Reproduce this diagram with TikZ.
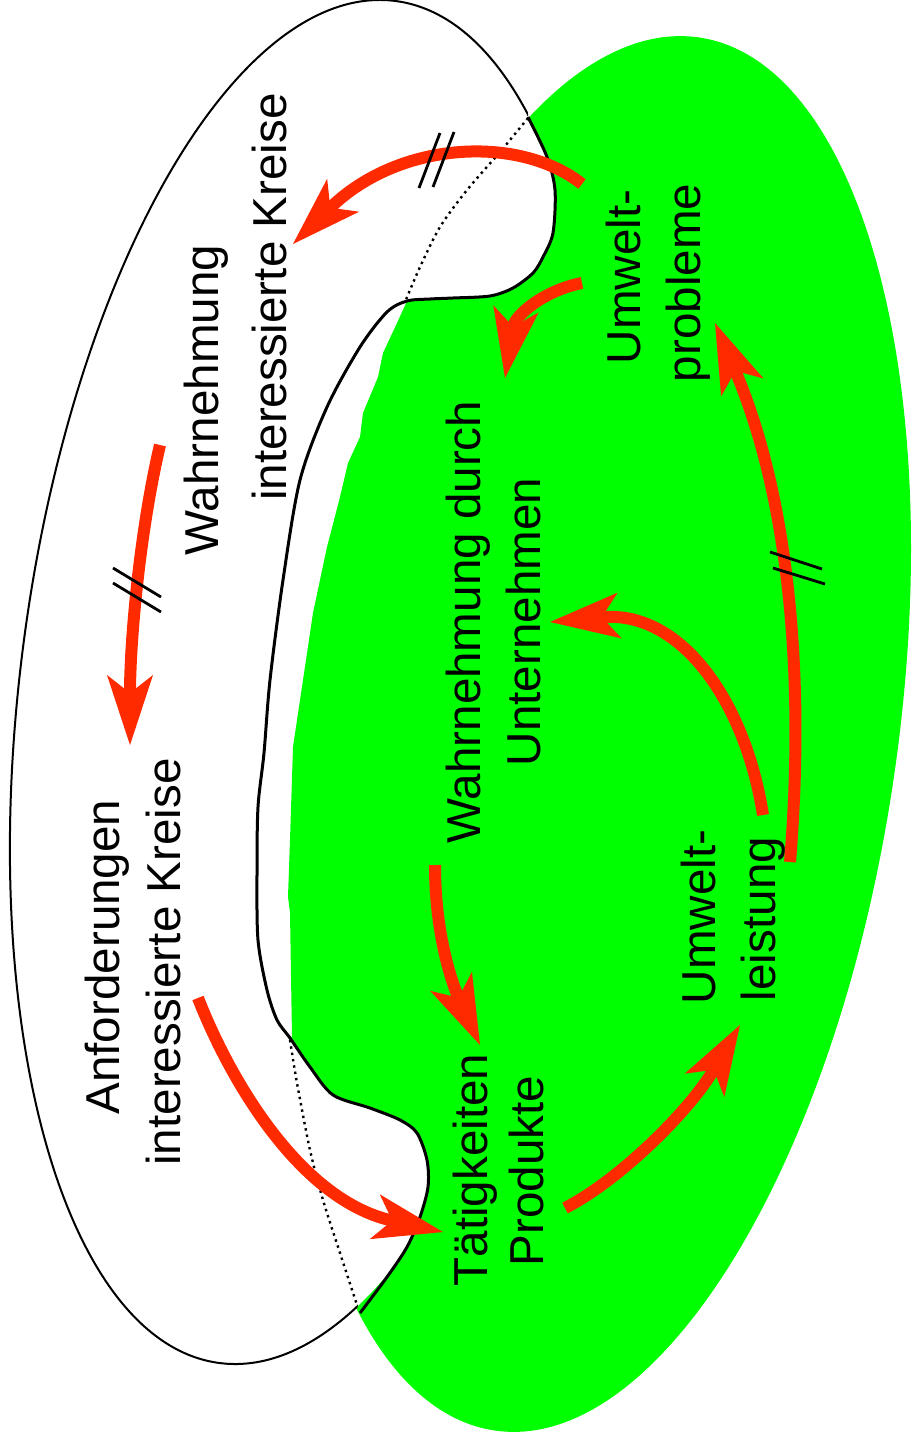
\documentclass[tikz,border=0pt]{standalone}
\usepackage{fontspec}
\setmainfont{Liberation Sans}
\usetikzlibrary{arrows.meta}
\definecolor{leaf}{RGB}{0,255,0}
\definecolor{flame}{RGB}{255,42,0}
\begin{document}
\begin{tikzpicture}[x=1pt,y=-1pt,
  flow/.style={draw=flame, line width=12pt,
    -{Stealth[length=70pt,width=46pt,inset=18pt,line width=0pt]}},
  hatch/.style={draw=black, line width=2.8pt},
  hidden/.style={line width=2.4pt, dash pattern=on 2.4pt off 4pt},
  lbl/.style={rotate=90, anchor=base, inner sep=0pt,
    font=\fontsize{47.6}{59}\selectfont},
  gshape/.style={rotate around={-8.35:(597,734)}},
  wshape/.style={rotate around={-7.36:(307.5,682)}},
]
\useasboundingbox (0,0) rectangle (914,1438);

% large green field
\fill[leaf, gshape] (597,734) ellipse [x radius=300, y radius=704];

% white field of the interested parties
\fill[white, wshape] (307.5,682) ellipse [x radius=286.6, y radius=686.7];
\begin{scope}
  \clip (562,-122) -- (323,1549) -- (-100,1549) -- (-100,-122) -- cycle;
  \draw[line width=2pt, wshape] (307.5,682) ellipse [x radius=286.6, y radius=686.7];
\end{scope}

% green tongue reaching into the white field
\fill[leaf] plot[smooth, tension=0.5] coordinates {(528,117) (547,157) (555,190) (553,233)
    (543,257) (533,273) (513,288) (490,296) (453,298) (430,299) (407,301)}
  -- (397,323) -- (383,353) -- (378,377) -- (363,413) -- (360,437) -- (348,463)
  -- (340,497) -- (327,547) -- (313,613) -- (303,680) -- (293,747) -- (290,840)
  -- (288,897) -- (290,913) -- (292,1037)
  -- plot[smooth, tension=0.5] coordinates {(290,1038) (310,1067) (333,1095) (370,1108)
    (400,1120) (417,1133) (427,1160) (428,1187) (420,1217) (407,1247) (387,1277) (360,1313)}
  -- (620,1313) -- (650,700) -- (620,117) -- cycle;

% outline of the tongue
\draw[line width=3pt] plot[smooth, tension=0.5] coordinates {(528,117) (547,157) (555,190)
  (553,233) (543,257) (533,273) (513,288) (490,296) (453,298) (430,299) (407,301)
  (387,312) (360,347) (327,407) (300,480) (283,580) (270,680) (264,753) (258,807)
  (257,873) (258,940) (267,990) (277,1020) (290,1038) (310,1067) (333,1095) (370,1108)
  (400,1120) (417,1133) (427,1160) (428,1187) (420,1217) (407,1247) (387,1277) (360,1313)};

% hidden edge of the green field
\draw[hidden] plot[smooth] coordinates {(528,118) (500,152) (467,190) (440,227)
  (420,267) (405,302)};
\draw[hidden] plot[smooth] coordinates {(290,1040) (297,1083) (310,1150) (323,1200)
  (340,1253) (357,1305)};

% labels
\node[lbl] (wik1) at (218,400) {Wahrnehmung};
\node[lbl] (wik2) at (286,297) {interessierte Kreise};
\node[lbl] (aik1) at (119,957) {Anforderungen};
\node[lbl] (aik2) at (180,962) {interessierte Kreise};
\node[lbl] (wdu1) at (480,622) {Wahrnehmung durch};
\node[lbl] (wdu2) at (540,622) {Unternehmen};
\node[lbl] (up1) at (640,277) {Umwelt-};
\node[lbl] (up2) at (700,283) {probleme};
\node[lbl] (ul1) at (715,917) {Umwelt-};
\node[lbl] (ul2) at (775,919) {leistung};
\node[lbl] (tp1) at (487,1170) {Tätigkeiten};
\node[lbl] (tp2) at (543,1171) {Produkte};

% arrow ends
\coordinate (a1s) at (582,184); \coordinate (a1e) at (293,244);
\coordinate (a2s) at (582,283); \coordinate (a2e) at (505,378);
\coordinate (a3s) at (160,445); \coordinate (a3e) at (130,745);
\coordinate (a4s) at (198,998); \coordinate (a4e) at (443,1232);
\coordinate (a5s) at (435,865); \coordinate (a5e) at (480,1045);
\coordinate (a6s) at (565,1208); \coordinate (a6e) at (740,1025);
\coordinate (a7s) at (763,815); \coordinate (a7e) at (550,622);
\coordinate (a8s) at (790,862); \coordinate (a8e) at (715,323);

% flows
\draw[flow] (a1s) .. controls (520,135) and (400,140) .. (a1e);
\draw[flow] (a2s) .. controls (545,290) and (515,315) .. (a2e);
\draw[flow] (a3s) .. controls (140,530) and (130,640) .. (a3e);
\draw[flow] (a4s) .. controls (230,1080) and (300,1200) .. (a4e);
\draw[flow] (a5s) .. controls (435,940) and (455,990) .. (a5e);
\draw[flow] (a6s) .. controls (620,1180) and (690,1110) .. (a6e);
\draw[flow] (a7s) .. controls (745,700) and (680,610) .. (a7e);
\draw[flow] (a8s) .. controls (805,680) and (790,500) .. (a8e);

% interruption marks
\coordinate (s1a) at (419,188); \coordinate (s1b) at (440,133);
\coordinate (s1c) at (433,187); \coordinate (s1d) at (454,132);
\coordinate (s2a) at (113,568); \coordinate (s2b) at (161,597);
\coordinate (s2c) at (113,583); \coordinate (s2d) at (161,612);
\coordinate (s3a) at (770,552); \coordinate (s3b) at (822,569);
\coordinate (s3c) at (773,568); \coordinate (s3d) at (825,584);
\draw[hatch] (s1a) -- (s1b); \draw[hatch] (s1c) -- (s1d);
\draw[hatch] (s2a) -- (s2b); \draw[hatch] (s2c) -- (s2d);
\draw[hatch] (s3a) -- (s3b); \draw[hatch] (s3c) -- (s3d);
\end{tikzpicture}
\end{document}
